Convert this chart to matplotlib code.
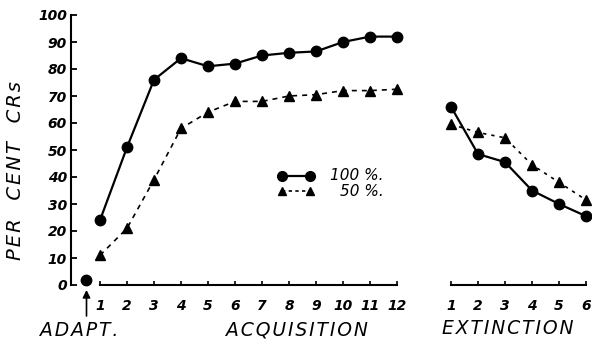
import matplotlib
matplotlib.use("Agg")
import matplotlib.pyplot as plt

# per cent CRs
adapt_val = 2
acq_trials = list(range(1, 13))
acq_100 = [24, 51, 76, 84, 81, 82, 85, 86, 86.5, 90, 92, 92]
acq_50 = [11, 21, 39, 58, 64, 68, 68, 70, 70.5, 72, 72, 72.5]
ext_trials = [1, 2, 3, 4, 5, 6]
ext_100 = [66, 48.5, 45.5, 35, 30, 25.5]
ext_50 = [59.5, 56.5, 54.5, 44.5, 38, 31.5]
yticks = list(range(0, 101, 10))

ADAPT_X = 0.5
EXT_OFFSET = 13  # extinction trial 1 sits two slots after acquisition 12
ext_x = [t + EXT_OFFSET for t in ext_trials]


def spaced(s):
    # hand-lettered look: a hair space between letters
    return "\u200a".join(s)


lab = dict(fontstyle="oblique", fontweight="bold", fontsize=10)
grp = dict(fontstyle="oblique", fontsize=13.5)

fig = plt.figure(figsize=(5.92, 3.43), dpi=100)
ax = fig.add_axes([71 / 592, 58 / 343, 521 / 592, 270 / 343])
ax.set_xlim(-0.074, 19.22)
ax.set_ylim(0, 100)

for s in ("top", "right", "bottom"):
    ax.spines[s].set_visible(False)
ax.spines["left"].set_linewidth(1.5)

ax.set_yticks(yticks)
ax.set_yticklabels([str(v) for v in yticks], **lab)
ax.tick_params(axis="y", direction="in", length=4, width=1.3, pad=3)

ax.set_xticks(acq_trials + ext_x)
ax.set_xticklabels([str(t) for t in acq_trials] + [str(t) for t in ext_trials], **lab)
ax.tick_params(axis="x", direction="in", length=3, width=1.2, pad=10)

# split baseline under the two phases
ax.plot([1, 12], [0, 0], color="black", lw=1.5, clip_on=False)
ax.plot([ext_x[0], ext_x[-1]], [0, 0], color="black", lw=1.5, clip_on=False)

mk = dict(color="black", clip_on=False)
ax.plot(acq_trials, acq_100, "-o", lw=1.6, ms=7.5, **mk)
ax.plot(acq_trials, acq_50, "--^", lw=1.2, ms=6.5, dashes=(3, 3), **mk)
ax.plot(ext_x, ext_100, "-o", lw=1.6, ms=7.5, **mk)
ax.plot(ext_x, ext_50, "--^", lw=1.2, ms=6.5, dashes=(2, 3), **mk)
ax.plot([ADAPT_X], [adapt_val], "o", ms=7.5, **mk)

# hand-drawn style key
ax.plot([7.74, 8.78], [40.4, 40.4], "-o", lw=1.6, ms=7, **mk)
ax.plot([7.74, 8.78], [34.8, 34.8], "--^", lw=1.2, ms=6, dashes=(2, 2), **mk)
ax.text(9.5, 40.4, "100 %.", va="center", ha="left", fontstyle="oblique", fontsize=11)
ax.text(9.9, 34.8, "50 %.", va="center", ha="left", fontstyle="oblique", fontsize=11)

# phase labels and adaptation arrow
ax.annotate("", xy=(ADAPT_X, -0.8), xytext=(ADAPT_X, -12.5),
            arrowprops=dict(arrowstyle="-|>", color="black", lw=1.2, mutation_scale=11),
            annotation_clip=False)
ax.text(0.22, -16.7, spaced("ADAPT."), ha="center", va="center", clip_on=False, **grp)
ax.text(8.3, -16.7, spaced("ACQUISITION"), ha="center", va="center", clip_on=False, **grp)
ax.text(16.1, -16.0, spaced("EXTINCTION"), ha="center", va="center", clip_on=False, **grp)

fig.text(16 / 592, 1 - 171 / 343, spaced("PER") + "   " + spaced("CENT") + "   " + spaced("CRs"),
         rotation=90, ha="center", va="center", fontstyle="oblique", fontsize=14)

fig.savefig("out.png", dpi=100)
